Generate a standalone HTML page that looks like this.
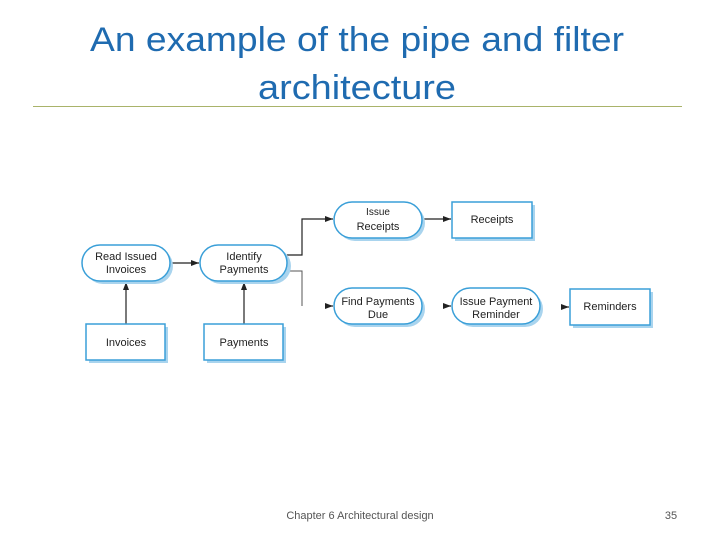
<!DOCTYPE html>
<html><head><meta charset="utf-8"><style>
html,body{margin:0;padding:0;background:#fff;}
svg{display:block;}
</style></head><body>
<svg width="720" height="540" viewBox="0 0 720 540" xmlns="http://www.w3.org/2000/svg" font-family="Liberation Sans, sans-serif">
<defs>
<marker id="ar" markerWidth="8" markerHeight="6" refX="8" refY="3" orient="auto" markerUnits="userSpaceOnUse">
<path d="M0,0 L8,3 L0,6 z" fill="#222"/>
</marker>
</defs>
<text x="357" y="51" font-size="34" fill="#1f6bb0" text-anchor="middle" textLength="534" lengthAdjust="spacingAndGlyphs">An example of the pipe and filter</text>
<text x="357" y="99" font-size="34" fill="#1f6bb0" text-anchor="middle" textLength="198" lengthAdjust="spacingAndGlyphs">architecture</text>
<line x1="33" y1="106.5" x2="682" y2="106.5" stroke="#a9b36a" stroke-width="1"/>

<g stroke="#222" stroke-width="1.2" fill="none">
<line x1="170" y1="263" x2="199" y2="263" marker-end="url(#ar)"/>
<line x1="126" y1="324" x2="126" y2="282" marker-end="url(#ar)"/>
<line x1="244" y1="324" x2="244" y2="282" marker-end="url(#ar)"/>
<polyline points="287,255 302,255 302,219 333,219" marker-end="url(#ar)"/>
<polyline points="287,271 302,271 302,306" stroke="#555" stroke-width="1"/>
<line x1="327" y1="306" x2="333" y2="306" marker-end="url(#ar)"/>
<line x1="422" y1="219" x2="451" y2="219" marker-end="url(#ar)"/>
<line x1="444" y1="306" x2="451" y2="306" marker-end="url(#ar)"/>
<line x1="562" y1="307" x2="569" y2="307" marker-end="url(#ar)"/>
</g>

<g fill="#a9d4ee">
<rect x="85" y="248" width="88" height="36" rx="18"/>
<rect x="203" y="248" width="88" height="36" rx="18"/>
<rect x="337" y="205" width="88" height="36" rx="18"/>
<rect x="337" y="291" width="88" height="36" rx="18"/>
<rect x="455" y="291" width="88" height="36" rx="18"/>
<rect x="89" y="327" width="79" height="36"/>
<rect x="207" y="327" width="79" height="36"/>
<rect x="455" y="205" width="80" height="36"/>
<rect x="573" y="292" width="80" height="36"/>
</g>
<g fill="#fff" stroke="#3a9fd8" stroke-width="1.5">
<rect x="82" y="245" width="88" height="36" rx="18"/>
<rect x="200" y="245" width="87" height="36" rx="18"/>
<rect x="334" y="202" width="88" height="36" rx="18"/>
<rect x="334" y="288" width="88" height="36" rx="18"/>
<rect x="452" y="288" width="88" height="36" rx="18"/>
<rect x="86" y="324" width="79" height="36"/>
<rect x="204" y="324" width="79" height="36"/>
<rect x="452" y="202" width="80" height="36"/>
<rect x="570" y="289" width="80" height="36"/>
</g>
<g font-size="11" fill="#222" text-anchor="middle">
<text x="126" y="260">Read Issued</text><text x="126" y="273">Invoices</text>
<text x="244" y="260">Identify</text><text x="244" y="273">Payments</text>
<text x="378" y="215" font-size="10">Issue</text><text x="378" y="230">Receipts</text>
<text x="378" y="305">Find Payments</text><text x="378" y="318">Due</text>
<text x="496" y="305">Issue Payment</text><text x="496" y="318">Reminder</text>
<text x="126" y="346">Invoices</text>
<text x="244" y="346">Payments</text>
<text x="492" y="223">Receipts</text>
<text x="610" y="310">Reminders</text>
</g>
<text x="360" y="519" font-size="11" fill="#555" text-anchor="middle">Chapter 6 Architectural design</text>
<text x="671" y="519" font-size="11" fill="#555" text-anchor="middle">35</text>
</svg>
</body></html>
